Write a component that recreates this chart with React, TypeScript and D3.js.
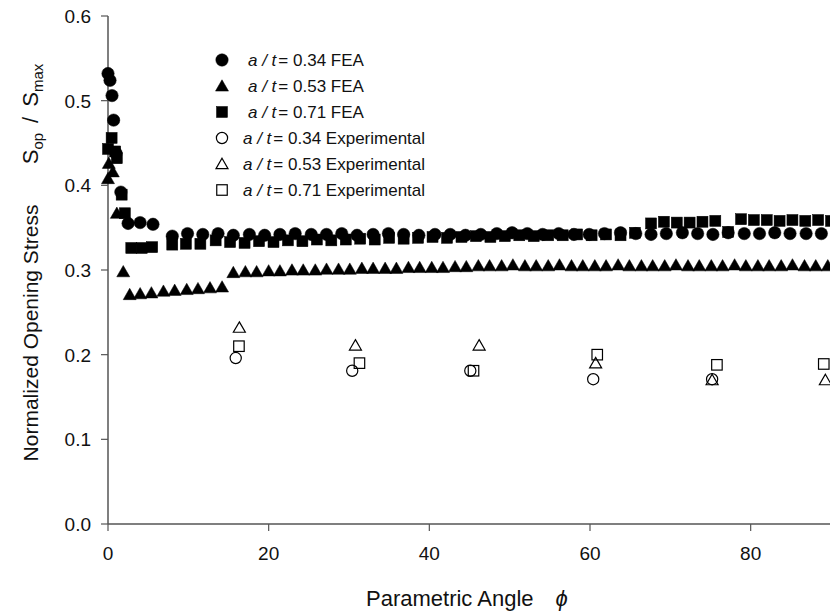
import React from "react";
import * as d3 from "d3";

type Pt = [number, number];

const circleFEA: Pt[] = [
  [0, 0.532], [0.25, 0.524], [0.5, 0.506], [0.7, 0.477], [1.0, 0.438], [1.6, 0.392],
  [2.5, 0.355], [4.0, 0.356], [5.6, 0.354], [8.0, 0.340], [9.9, 0.343], [11.8, 0.342],
  [13.7, 0.343], [15.6, 0.341], [17.6, 0.342], [19.5, 0.341], [21.4, 0.342], [23.3, 0.343],
  [25.3, 0.342], [27.2, 0.342], [29.1, 0.343], [31.0, 0.341], [33.0, 0.342], [34.9, 0.343],
  [36.8, 0.342], [38.7, 0.341], [40.7, 0.342], [42.6, 0.342], [44.5, 0.341], [46.4, 0.342],
  [48.4, 0.343], [50.3, 0.344], [52.2, 0.343], [54.1, 0.342], [56.1, 0.343], [58.0, 0.342],
  [59.9, 0.342], [61.8, 0.343], [63.8, 0.344], [65.7, 0.343], [67.6, 0.342], [69.5, 0.343],
  [71.5, 0.344], [73.4, 0.343], [75.3, 0.342], [77.2, 0.344], [79.2, 0.343], [81.1, 0.343],
  [83.0, 0.344], [84.9, 0.343], [86.9, 0.343], [88.8, 0.343],
];

const triangleFEA: Pt[] = [
  [0, 0.408], [0.1, 0.426], [0.6, 0.416], [1.1, 0.367], [1.9, 0.298], [2.7, 0.271],
  [4.0, 0.272], [5.4, 0.273], [6.9, 0.275], [8.3, 0.276], [9.8, 0.277], [11.2, 0.278],
  [12.7, 0.279], [14.2, 0.280], [15.6, 0.297], [17.1, 0.298], [18.5, 0.298], [20.0, 0.299],
  [21.4, 0.299], [22.9, 0.300], [24.3, 0.300], [25.8, 0.300], [27.2, 0.301], [28.7, 0.301],
  [30.1, 0.301], [31.6, 0.302], [33.0, 0.302], [34.5, 0.302], [35.9, 0.302], [37.4, 0.303],
  [38.8, 0.303], [40.3, 0.303], [41.7, 0.303], [43.2, 0.304], [44.6, 0.304], [46.1, 0.305],
  [47.5, 0.305], [49.0, 0.305], [50.4, 0.306], [51.9, 0.305], [53.3, 0.305], [54.8, 0.305],
  [56.2, 0.306], [57.7, 0.305], [59.1, 0.305], [60.6, 0.305], [62.0, 0.305], [63.5, 0.306],
  [64.9, 0.305], [66.4, 0.305], [67.8, 0.305], [69.3, 0.305], [70.7, 0.306], [72.2, 0.305],
  [73.6, 0.305], [75.1, 0.305], [76.5, 0.305], [78.0, 0.306], [79.4, 0.305], [80.9, 0.305],
  [82.3, 0.305], [83.8, 0.305], [85.2, 0.306], [86.7, 0.305], [88.1, 0.305], [89.6, 0.305],
];

const squareFEA: Pt[] = [
  [0, 0.443], [0.45, 0.456], [0.9, 0.440], [1.1, 0.432], [1.7, 0.389], [2.1, 0.367],
  [2.9, 0.326], [4.2, 0.326], [5.5, 0.327], [8.0, 0.330], [9.7, 0.331], [11.5, 0.331],
  [13.4, 0.335], [15.2, 0.333], [17.0, 0.332], [18.8, 0.334], [20.6, 0.333], [22.4, 0.335],
  [24.2, 0.334], [26.0, 0.336], [27.8, 0.335], [29.6, 0.336], [31.4, 0.337], [33.2, 0.336],
  [35.0, 0.338], [36.8, 0.337], [38.6, 0.338], [40.4, 0.339], [42.2, 0.338], [44.0, 0.339],
  [45.8, 0.340], [47.6, 0.339], [49.4, 0.340], [51.2, 0.341], [53.0, 0.340], [54.8, 0.341],
  [56.6, 0.341], [58.4, 0.342], [60.2, 0.341], [62.0, 0.342], [63.8, 0.341], [65.6, 0.344],
  [67.6, 0.355], [69.2, 0.357], [70.8, 0.356], [72.4, 0.356], [74.0, 0.357], [75.6, 0.358],
  [77.2, 0.345], [78.8, 0.360], [80.4, 0.359], [82.0, 0.359], [83.6, 0.358], [85.2, 0.359],
  [86.8, 0.358], [88.4, 0.359], [90.0, 0.358],
];

const circleExp: Pt[] = [[15.9, 0.196], [30.4, 0.181], [45.1, 0.181], [60.4, 0.171], [75.2, 0.171]];
const triangleExp: Pt[] = [[16.35, 0.232], [30.8, 0.211], [46.2, 0.211], [60.7, 0.190], [75.2, 0.170], [89.3, 0.170]];
const squareExp: Pt[] = [[16.3, 0.210], [31.3, 0.190], [45.5, 0.181], [60.9, 0.200], [75.8, 0.188], [89.1, 0.189]];

const xTicks = [0, 20, 40, 60, 80];
const yTicks = [0.0, 0.1, 0.2, 0.3, 0.4, 0.5, 0.6];

const legendItems = [
  { shape: "circle", filled: true, ratio: "0.34", kind: "FEA" },
  { shape: "triangle", filled: true, ratio: "0.53", kind: "FEA" },
  { shape: "square", filled: true, ratio: "0.71", kind: "FEA" },
  { shape: "circle", filled: false, ratio: "0.34", kind: "Experimental" },
  { shape: "triangle", filled: false, ratio: "0.53", kind: "Experimental" },
  { shape: "square", filled: false, ratio: "0.71", kind: "Experimental" },
];

const W = 830;
const H = 614;
const FONT = "'Liberation Sans', Arial, sans-serif";

const x = d3.scaleLinear().domain([0, 90]).range([108, 831]);
const y = d3.scaleLinear().domain([0, 0.6]).range([524, 16]);

function Marker({ shape, filled, cx, cy }: any) {
  const fill = filled ? "#000" : "none";
  const stroke = "#000";
  const sw = filled ? 0.5 : 1.2;
  if (shape === "circle") {
    const r = filled ? 6.2 : 5.6;
    return <circle cx={cx} cy={cy} r={r} fill={fill} stroke={stroke} strokeWidth={sw} />;
  }
  if (shape === "square") {
    const s = filled ? 11 : 10.5;
    return <rect x={cx - s / 2} y={cy - s / 2} width={s} height={s} fill={fill} stroke={stroke} strokeWidth={sw} />;
  }
  const sz = filled ? 13 : 12;
  const h = sz * 0.87;
  const p = `M${cx},${cy - h * 0.55} L${cx + sz / 2},${cy + h * 0.45} L${cx - sz / 2},${cy + h * 0.45} Z`;
  return <path d={p} fill={fill} stroke={stroke} strokeWidth={sw} />;
}

export default function App() {
  const series = [
    { data: circleFEA, shape: "circle", filled: true },
    { data: triangleFEA, shape: "triangle", filled: true },
    { data: squareFEA, shape: "square", filled: true },
    { data: circleExp, shape: "circle", filled: false },
    { data: triangleExp, shape: "triangle", filled: false },
    { data: squareExp, shape: "square", filled: false },
  ];
  const axisColor = "#555";
  return (
    <div style={{ position: "absolute", left: 0, top: 0 }}>
      <svg width={W} height={H} style={{ display: "block", background: "#fff" }} fontFamily={FONT}>
        {/* axes */}
        <line x1={x(0)} x2={W} y1={y(0)} y2={y(0)} stroke={axisColor} strokeWidth={1.5} />
        <line x1={x(0)} x2={x(0)} y1={y(0.6)} y2={y(0)} stroke={axisColor} strokeWidth={1.5} />
        {xTicks.map((t) => (
          <g key={"xt" + t}>
            <line x1={x(t)} x2={x(t)} y1={y(0)} y2={y(0) + 7} stroke={axisColor} strokeWidth={1.2} />
            <text x={x(t)} y={y(0) + 36} textAnchor="middle" fontSize={19} fill="#111">{t}</text>
          </g>
        ))}
        {yTicks.map((t) => (
          <g key={"yt" + t}>
            <line x1={x(0) - 7} x2={x(0)} y1={y(t)} y2={y(t)} stroke={axisColor} strokeWidth={1.2} />
            <text x={x(0) - 17} y={y(t) + 7} textAnchor="end" fontSize={19} fill="#111">{t.toFixed(1)}</text>
          </g>
        ))}
        {/* axis titles */}
        <text x={366} y={606} textAnchor="start" fontSize={22} fill="#111">
          Parametric Angle
          <tspan dx={22} fontStyle="italic">ϕ</tspan>
        </text>
        <text transform="translate(38,333) rotate(-90)" textAnchor="middle" fontSize={21} fill="#111">
          Normalized Opening Stress
        </text>
        <text transform="translate(38,114) rotate(-90)" textAnchor="middle" fontSize={22} fill="#111">
          S<tspan fontSize={15} dy={5}>op</tspan>
          <tspan dy={-5} dx={10}>/</tspan>
          <tspan dx={10}>S</tspan>
          <tspan fontSize={15} dy={5}>max</tspan>
        </text>
        {/* data */}
        <g>
          {series.map((s, si) =>
            s.data.map((d, i) => (
              <Marker key={si + "-" + i} shape={s.shape} filled={s.filled} cx={x(d[0])} cy={y(d[1])} />
            ))
          )}
        </g>
        {/* legend */}
        {legendItems.map((it, i) => {
          const cy = 60 + i * 26;
          const tx = it.kind === "FEA" ? 248 : 243;
          return (
            <g key={"lg" + i}>
              <Marker shape={it.shape} filled={it.filled} cx={222} cy={cy} />
              <text x={tx} y={cy + 6} fontSize={17} fill="#111">
                <tspan fontStyle="italic">a / t</tspan>
                <tspan dx={2}>= {it.ratio} {it.kind}</tspan>
              </text>
            </g>
          );
        })}
      </svg>
    </div>
  );
}
